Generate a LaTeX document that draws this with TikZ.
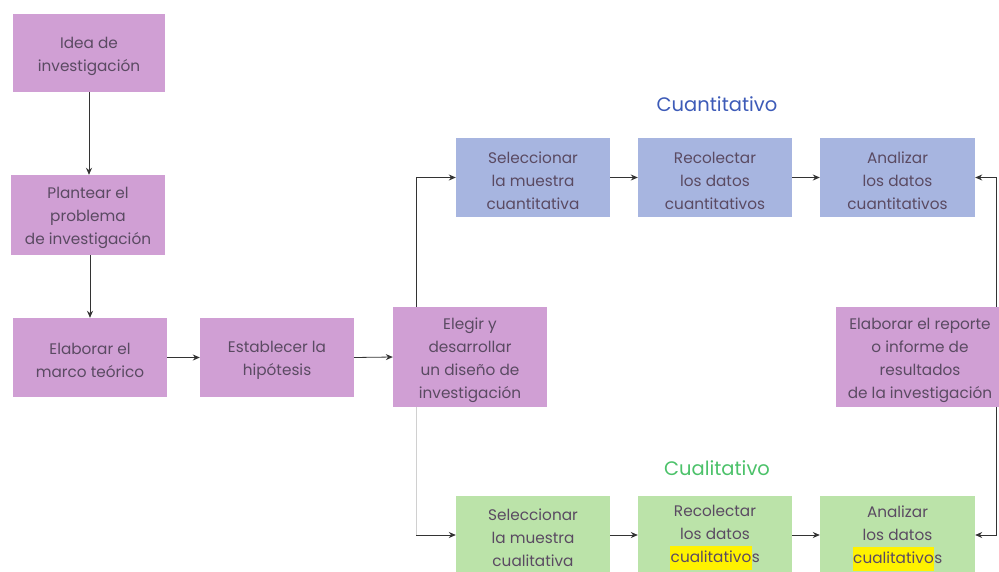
\documentclass[tikz,border=0pt]{standalone}
\usepackage{fontspec}
\setmainfont{Poppins}
\usetikzlibrary{arrows.meta}
\definecolor{purp}{HTML}{D09FD4}
\definecolor{blu}{HTML}{A7B5E0}
\definecolor{grn}{HTML}{BBE3A9}
\definecolor{txt}{HTML}{5A4A62}
\definecolor{ttlblue}{HTML}{3D5BB8}
\definecolor{ttlgreen}{HTML}{4CC26A}
\definecolor{hly}{HTML}{FFF200}
\definecolor{lnk}{HTML}{333333}
\definecolor{lite}{HTML}{D0D0D0}
\newcommand{\hlite}[1]{{\setlength{\fboxsep}{0.5pt}\colorbox{hly}{\strut #1}}}
% box with its text set a little lower
\newcommand{\bx}[4]{%
  \node[#3] (#1) at #2 {};
  \node[boxtext] (#1-t) at ([yshift=-3pt]#1.center) {#4};}
\begin{document}
\begin{tikzpicture}[x=1pt,y=-1pt,
  box/.style={rectangle, inner sep=0pt, minimum width=154pt, minimum height=79pt},
  boxtext/.style={inner sep=0pt, align=center, text=txt,
    font=\fontsize{15.3}{23}\selectfont},
  pbox/.style={box, fill=purp},
  bbox/.style={box, fill=blu},
  gbox/.style={box, fill=grn},
  arr/.style={draw=lnk, line width=0.8pt, -{Stealth[length=7pt,width=6pt]}},
  ttl/.style={font=\fontsize{19.5}{22}\selectfont, inner sep=0pt}
]
\clip (0,0) rectangle (999,571);
\useasboundingbox (0,0) rectangle (999,571);
\fill[white] (0,0) rectangle (999,571);

\bx{idea}{(89,53)}{pbox, minimum width=152pt, minimum height=78pt}{Idea de\\investigación}
\bx{plan}{(88,215)}{pbox, minimum height=80pt}{Plantear el\\problema\\de investigación}
\bx{marco}{(90,357.5)}{pbox}{Elaborar el\\marco teórico}
\bx{hipo}{(277,357.5)}{pbox}{Establecer la\\hipótesis}
\bx{elegir}{(470,357)}{pbox, minimum height=100pt}{Elegir y\\desarrollar\\un diseño de\\investigación}
\bx{rep}{(920,357)}{pbox, minimum width=168pt, minimum height=100pt}{Elaborar el reporte\\o informe de\\resultados\\de la investigación}

\node[ttl, text=ttlblue] (tcuan) at (717,104) {Cuantitativo};
\node[ttl, text=ttlgreen] (tcual) at (717,468) {Cualitativo};

\bx{s1}{(533,177.5)}{bbox}{Seleccionar\\la muestra\\cuantitativa}
\bx{s2}{(715,177.5)}{bbox}{Recolectar\\los datos\\cuantitativos}
\bx{s3}{(897.5,177.5)}{bbox, minimum width=155pt}{Analizar\\los datos\\cuantitativos}

\bx{c1}{(533,535)}{gbox}{Seleccionar\\la muestra\\cualitativa}
\bx{c2}{(715,535)}{gbox}{Recolectar\\los datos\\\hlite{cualitativo}s}
\bx{c3}{(897.5,535)}{gbox, minimum width=155pt}{Analizar\\los datos\\\hlite{cualitativo}s}

\coordinate (lx) at (416,0);
\coordinate (rx) at (996,0);

\draw[arr] (idea.south) -- (idea.south |- plan.north);
\draw[arr] (marco.north |- plan.south) -- (marco.north);
\draw[arr] (marco.east) -- (hipo.west);
\draw[arr] (hipo.east) -- (elegir.west);
\draw[arr] (lx |- elegir.north) |- (s1.west);
\draw[draw=lite, line width=0.8pt] (lx |- elegir.south) -- (lx |- c1.west);
\draw[arr] (lx |- c1.west) -- (c1.west);
\draw[arr] (s1.east) -- (s2.west);
\draw[arr] (s2.east) -- (s3.west);
\draw[arr] (c1.east) -- (c2.west);
\draw[arr] (c2.east) -- (c3.west);
\draw[arr] (rx |- rep.north) |- (s3.east);
\draw[arr] (rx |- rep.south) |- (c3.east);
\end{tikzpicture}
\end{document}
